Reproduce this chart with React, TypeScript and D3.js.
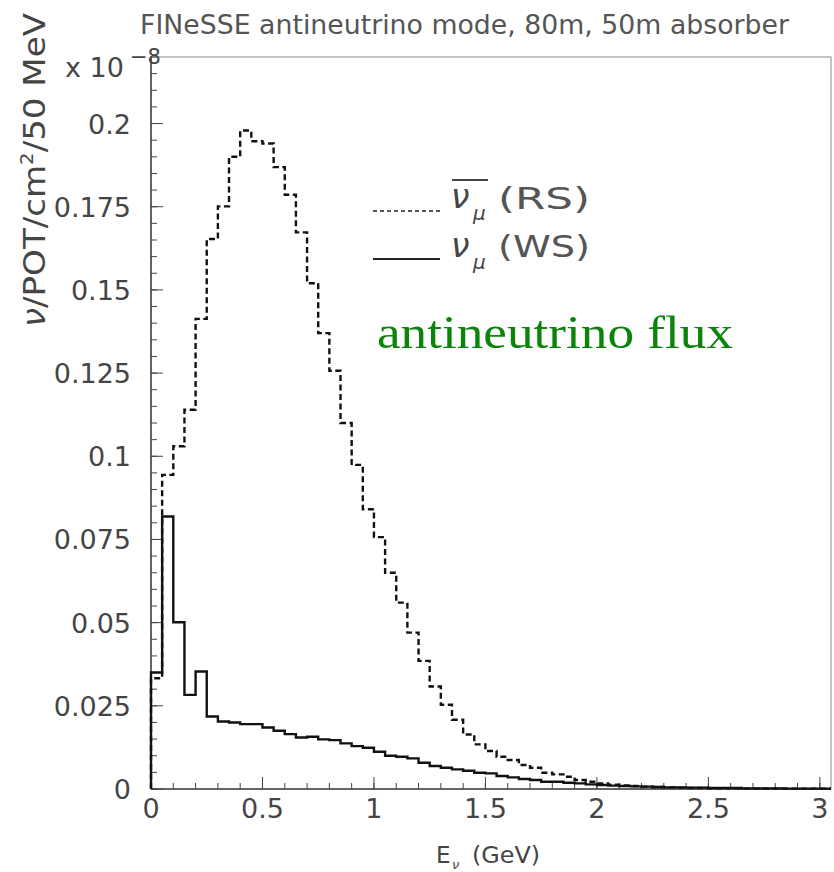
import React from 'react';
import * as d3 from 'd3';

const binWidth = 0.05;

// nu_mu-bar (RS) flux, 50 MeV bins from 0 to 3.05 GeV (x 1e-8)
const rsFlux = [
  0.0333, 0.0944, 0.103, 0.114, 0.1413, 0.1653, 0.1751, 0.19, 0.1979, 0.1947,
  0.194, 0.1869, 0.1786, 0.1673, 0.152, 0.137, 0.1257, 0.11, 0.0974, 0.0841,
  0.0757, 0.065, 0.056, 0.047, 0.0385, 0.0308, 0.0253, 0.0208, 0.0164, 0.0134,
  0.0114, 0.0097, 0.0087, 0.0072, 0.0064, 0.0049, 0.0044, 0.0037, 0.0027, 0.0022,
  0.0017, 0.0013, 0.0011, 0.0009, 0.0007, 0.0006, 0.0005, 0.0004, 0.0003, 0.0003,
  0.0002, 0.0002, 0.0002, 0.0001, 0.0001, 0.0001, 0.0001, 0.0001, 0.0001, 0.0001,
  0.0001,
];

// nu_mu (WS) flux
const wsFlux = [
  0.035, 0.0819, 0.0501, 0.0283, 0.0353, 0.0218, 0.0203, 0.02, 0.0195, 0.0195,
  0.0185, 0.0175, 0.0165, 0.0155, 0.0157, 0.0149, 0.0147, 0.0137, 0.0129, 0.0124,
  0.0112, 0.01, 0.0097, 0.0092, 0.0079, 0.0069, 0.0064, 0.0059, 0.0055, 0.0049,
  0.0047, 0.0039, 0.0035, 0.003, 0.0027, 0.0022, 0.0022, 0.0019, 0.0017, 0.0014,
  0.0012, 0.001, 0.0009, 0.0008, 0.0007, 0.0006, 0.0005, 0.0005, 0.0004, 0.0004,
  0.0003, 0.0003, 0.0003, 0.0002, 0.0002, 0.0002, 0.0002, 0.0001, 0.0001, 0.0001,
  0.0001,
];

const xTicks = [0, 0.5, 1, 1.5, 2, 2.5, 3];
const xTickLabels = ['0', '0.5', '1', '1.5', '2', '2.5', '3'];
const yTicks = [0, 0.025, 0.05, 0.075, 0.1, 0.125, 0.15, 0.175, 0.2];
const yTickLabels = ['0', '0.025', '0.05', '0.075', '0.1', '0.125', '0.15', '0.175', '0.2'];

const title = 'FINeSSE antineutrino mode, 80m, 50m absorber';
const annotation = 'antineutrino flux';

export default function App() {
  const W = 834;
  const H = 872;
  const left = 151, right = 831, top = 57, bottom = 789;
  const x = d3.scaleLinear().domain([0, 3.05]).range([left, right]);
  const y = d3.scaleLinear().domain([0, 0.22]).range([bottom, top]);

  const stepPath = (vals: number[]) => {
    const pts: [number, number][] = vals.map((v, i) => [i * binWidth, v]);
    pts.push([vals.length * binWidth, vals[vals.length - 1]]);
    const line = d3
      .line<[number, number]>()
      .x((d) => x(d[0]))
      .y((d) => y(d[1]))
      .curve(d3.curveStepAfter);
    const d = line(pts) || '';
    return `M${x(0)},${y(0)}L` + d.slice(1);
  };

  const xMinor = d3.range(0, 31).map((i) => i * 0.1);
  const yMinor = d3.range(0, 45).map((i) => i * 0.005);

  const font = "'DejaVu Sans', sans-serif";
  const txt = '#454545';
  const axisCol = '#444';

  return (
    <svg
      width={W}
      height={H}
      style={{ position: 'absolute', left: 0, top: 0, background: '#fff' }}
      fontFamily={font}
    >
      <rect x={0} y={0} width={W} height={H} fill="#fff" />
      {/* title */}
      <text x={140} y={34} fontSize={26} fill="#555" textLength={649} lengthAdjust="spacingAndGlyphs">
        {title}
      </text>

      {/* frame */}
      <rect x={left} y={top} width={right - left} height={bottom - top} fill="none" stroke="#888" strokeWidth={1} />
      <line x1={left} x2={left} y1={top} y2={bottom} stroke={axisCol} strokeWidth={1.5} />
      <line x1={left} x2={right} y1={bottom} y2={bottom} stroke={axisCol} strokeWidth={1.5} />

      {/* y ticks */}
      {yMinor.map((v, i) => (
        <line key={'ym' + i} x1={left} x2={left + 6} y1={y(v)} y2={y(v)} stroke={axisCol} strokeWidth={1} />
      ))}
      {yTicks.map((v, i) => (
        <line key={'yM' + i} x1={left} x2={left + 12} y1={y(v)} y2={y(v)} stroke={axisCol} strokeWidth={1} />
      ))}
      {yTicks.map((v, i) => (
        <text key={'yl' + i} x={131} y={y(v) + 10} fontSize={27} fill={txt} textAnchor="end">
          {yTickLabels[i]}
        </text>
      ))}

      {/* x ticks */}
      {xMinor.map((v, i) => (
        <line key={'xm' + i} x1={x(v)} x2={x(v)} y1={bottom} y2={bottom - 6} stroke={axisCol} strokeWidth={1} />
      ))}
      {xTicks.map((v, i) => (
        <line key={'xM' + i} x1={x(v)} x2={x(v)} y1={bottom} y2={bottom - 12} stroke={axisCol} strokeWidth={1} />
      ))}
      {xTicks.map((v, i) => (
        <text key={'xl' + i} x={x(v)} y={818} fontSize={27} fill={txt} textAnchor="middle">
          {xTickLabels[i]}
        </text>
      ))}

      {/* exponent */}
      <text x={65} y={77} fontSize={27} fill={txt}>x 10</text>
      <text x={130} y={64} fontSize={21} fill={txt}>−8</text>

      {/* y axis title */}
      <text
        transform="translate(45,170) rotate(-90)"
        fontSize={31}
        fill={txt}
        textAnchor="middle"
        textLength={314}
        lengthAdjust="spacingAndGlyphs"
      >
        <tspan fontStyle="italic">ν</tspan>/POT/cm<tspan fontSize={18} dy={-12}>2</tspan>
        <tspan dy={12}>/50 MeV</tspan>
      </text>

      {/* x axis title */}
      <text x={436} y={863} fontSize={23} fill={txt}>E</text>
      <text x={452} y={869} fontSize={13} fill={txt} fontStyle="italic">ν</text>
      <text x={472} y={863} fontSize={23} fill={txt} textLength={68} lengthAdjust="spacingAndGlyphs">(GeV)</text>

      {/* histograms */}
      <path d={stepPath(rsFlux)} fill="none" stroke="#111" strokeWidth={2.4} strokeDasharray="6,3.5" />
      <path d={stepPath(wsFlux)} fill="none" stroke="#111" strokeWidth={2.4} />

      {/* legend */}
      <line x1={373} x2={440} y1={211} y2={211} stroke="#222" strokeWidth={1.6} strokeDasharray="4,3" />
      <line x1={373} x2={440} y1={259} y2={259} stroke="#222" strokeWidth={2} />
      <line x1={452} x2={488} y1={180} y2={180} stroke={txt} strokeWidth={1.8} />
      <text x={451} y={208} fontSize={33} fill={txt} fontStyle="italic">ν</text>
      <text x={473} y={220} fontSize={20} fill={txt} fontStyle="italic">μ</text>
      <text x={498} y={209} fontSize={31} fill="#555" textLength={92} lengthAdjust="spacingAndGlyphs">(RS)</text>
      <text x={451} y={257} fontSize={33} fill={txt} fontStyle="italic">ν</text>
      <text x={473} y={269} fontSize={20} fill={txt} fontStyle="italic">μ</text>
      <text x={498} y={257} fontSize={31} fill="#555" textLength={92} lengthAdjust="spacingAndGlyphs">(WS)</text>

      {/* annotation */}
      <text x={377} y={348} fontSize={46} fill="#0a850a" fontFamily="'Liberation Serif', 'Times New Roman', serif" textLength={356} lengthAdjust="spacingAndGlyphs">
        {annotation}
      </text>
    </svg>
  );
}
